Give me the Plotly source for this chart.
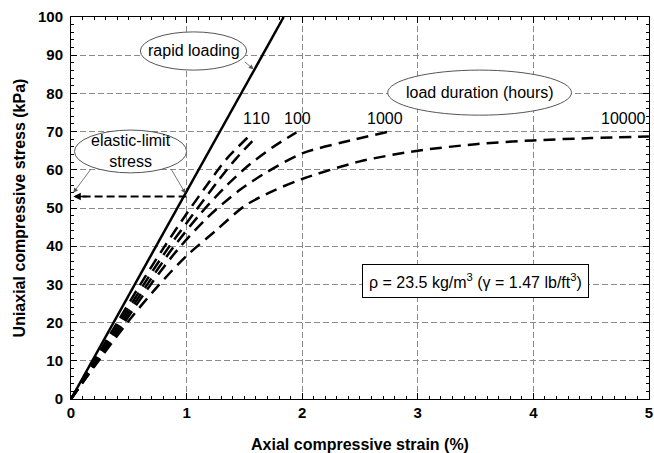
import plotly.graph_objects as go

# ---- data ----
rapid_x = [0, 1.84]
rapid_y = [0, 100]

c1_x = [0, 0.2, 0.4, 0.6, 0.8, 1.0, 1.2, 1.35, 1.53]
c1_y = [0, 10, 20, 30, 39.5, 48.5, 57, 63, 68.5]

c10_x = [0, 0.21, 0.42, 0.63, 0.84, 1.06, 1.27, 1.43, 1.6]
c10_y = [0, 10, 20, 30, 39.5, 48.5, 57, 63, 68.5]

c100_x = [0, 0.22, 0.44, 0.66, 0.88, 1.12, 1.35, 1.55, 1.75, 1.95]
c100_y = [0, 10, 20, 30, 39.5, 48.5, 56, 61.5, 66, 69.8]

c1000_x = [0, 0.23, 0.46, 0.69, 0.92, 1.18, 1.45, 1.7, 2.0, 2.35, 2.75]
c1000_y = [0, 10, 20, 30, 39, 47.5, 54.5, 59.5, 64.3, 67.2, 70]

c10000_x = [0, 0.25, 0.5, 0.75, 1.0, 1.25, 1.5, 1.75, 2.0, 2.5, 3.0, 3.5, 4.0, 4.5, 5.0]
c10000_y = [0, 10.5, 20.5, 29.5, 37.5, 44, 50.5, 54.5, 57.6, 62.2, 65.0, 66.7, 67.7, 68.3, 68.7]

x_ticks = [0, 1, 2, 3, 4, 5]
y_ticks = [0, 10, 20, 30, 40, 50, 60, 70, 80, 90, 100]

duration_labels = ["1", "10", "100", "1000", "10000"]
label_x = [1.53, 1.64, 1.96, 2.72, 4.78]
label_y = [73.5, 73.5, 73.5, 73.5, 73.5]

elastic_limit = 53

FONT = "Liberation Sans, Arial, sans-serif"

fig = go.Figure()
fig.add_trace(go.Scatter(x=rapid_x, y=rapid_y, mode="lines",
                         line=dict(color="black", width=2.5), showlegend=False))
for xs, ys in [(c1_x, c1_y), (c10_x, c10_y), (c100_x, c100_y),
               (c1000_x, c1000_y), (c10000_x, c10000_y)]:
    fig.add_trace(go.Scatter(x=xs, y=ys, mode="lines", line_shape="spline",
                             line=dict(color="black", width=2.5, dash="12px,7px", smoothing=0.8),
                             showlegend=False))

# elastic limit dashed line
fig.add_shape(type="line", x0=1.0, x1=0.06, y0=elastic_limit, y1=elastic_limit,
              xref="x", yref="y", line=dict(color="black", width=2, dash="8px,4px"))
fig.add_annotation(x=0.02, y=elastic_limit, ax=0.15, ay=elastic_limit, axref="x", ayref="y",
                   xref="x", yref="y", text="", showarrow=True, arrowhead=2,
                   arrowsize=1, arrowwidth=1.5, arrowcolor="black")

# ellipses
ell = [
    (0.60, 1.52, 86.1, 96.1),
    (0.03, 1.00, 59.2, 70.4),
    (2.74, 4.33, 74.3, 86.1),
]
for x0, x1, y0, y1 in ell:
    fig.add_shape(type="circle", x0=x0, x1=x1, y0=y0, y1=y1, xref="x", yref="y",
                  line=dict(color="#555", width=1), fillcolor="white", layer="above")

ann_font = dict(family=FONT, size=16, color="black")
fig.add_annotation(x=1.06, y=91.3, text="rapid loading", showarrow=False, font=ann_font)
fig.add_annotation(x=0.515, y=64.8, text="elastic-limit<br>stress", showarrow=False,
                   font=ann_font)
fig.add_annotation(x=3.535, y=80.2, text="load duration (hours)", showarrow=False,
                   font=ann_font)

# thin pointer arrows
arrows = [
    (1.58, 86.3, 1.49, 88.6),
    (0.02, 54.0, 0.18, 60.5),
    (0.99, 53.8, 0.86, 60.5),
]
for hx, hy, tx, ty in arrows:
    fig.add_annotation(x=hx, y=hy, ax=tx, ay=ty, axref="x", ayref="y", xref="x", yref="y",
                       text="", showarrow=True, arrowhead=2, arrowsize=1.2,
                       arrowwidth=0.8, arrowcolor="#555")

for t, lx, ly in zip(duration_labels, label_x, label_y):
    fig.add_annotation(x=lx, y=ly, text=t, showarrow=False, font=ann_font)

fig.add_annotation(x=3.5, y=30.9,
                   text="ρ = 23.5 kg/m<sup>3</sup> (γ = 1.47 lb/ft<sup>3</sup>)",
                   showarrow=False, font=dict(family=FONT, size=16, color="black"),
                   bgcolor="white", bordercolor="black", borderwidth=1, borderpad=6)

axis_common = dict(
    showline=True, linecolor="black", linewidth=1, mirror="allticks",
    ticks="inside", ticklen=6, tickcolor="black",
    showgrid=True, gridcolor="#8a8a8a", gridwidth=1, griddash="6px,3px",
    zeroline=False, automargin=False, ticklabeloverflow="allow",
    tickfont=dict(family=FONT, size=15, color="black", weight="bold"),
)

fig.update_xaxes(range=[0, 5.0005], tickmode="array", tickvals=x_ticks,
                 ticktext=[str(v) for v in x_ticks],
                 minor=dict(dtick=0.1, tick0=0, ticks="inside", ticklen=3, tickcolor="black",
                            showgrid=False),
                 title=dict(text="<b>Axial compressive strain (%)</b>", standoff=23,
                            font=dict(family=FONT, size=16, color="black")),
                 **axis_common)
fig.update_yaxes(range=[0, 100], tickmode="array", tickvals=y_ticks,
                 ticktext=[str(v) for v in y_ticks], ticklabelstandoff=4,
                 minor=dict(dtick=2, tick0=0, ticks="inside", ticklen=3, tickcolor="black",
                            showgrid=False),
                 title=dict(text="<b>Uniaxial compressive stress (kPa)</b>", standoff=8,
                            font=dict(family=FONT, size=16, color="black")),
                 **axis_common)

fig.update_layout(width=654, height=453, paper_bgcolor="white", plot_bgcolor="white",
                  margin=dict(l=71, r=5, t=17, b=54), showlegend=False,
                  font=dict(family=FONT))

# remove the default page margin so the figure fills the window exactly
fig.write_html("out.html", config={"displayModeBar": False},
               post_script="document.body.style.margin='0';document.body.style.overflow='hidden';")
